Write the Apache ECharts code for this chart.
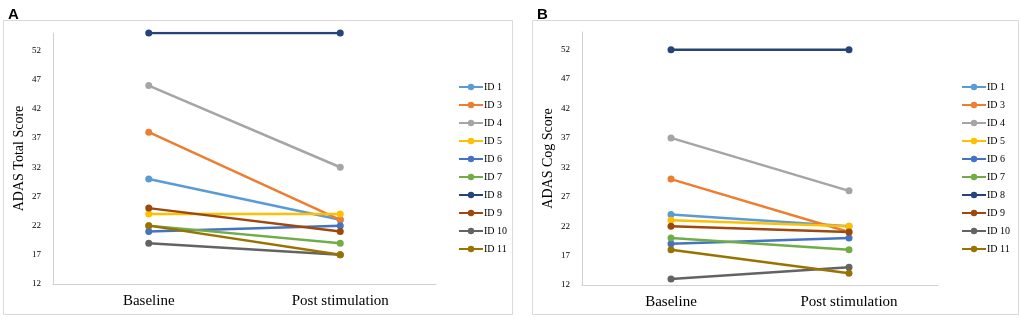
<!DOCTYPE html>
<html>
<head>
<meta charset="utf-8">
<script src="https://cdn.jsdelivr.net/npm/echarts@6/dist/echarts.min.js"></script>
<style>
  html, body { margin: 0; padding: 0; background: #fff; }
  #chart { width: 1020px; height: 319px; }
</style>
</head>
<body>
<div id="chart"></div>
<script>
// Categories and participants
const timepoints = ["Baseline", "Post stimulation"];
const ids = ["ID 1", "ID 3", "ID 4", "ID 5", "ID 6", "ID 7", "ID 8", "ID 9", "ID 10", "ID 11"];
const colors = ["#5B9BD5", "#ED7D31", "#A5A5A5", "#FFC000", "#4472C4", "#70AD47", "#264478", "#9E480E", "#636363", "#997300"];

// Panel A: ADAS Total Score [baseline, post]
const totalScore = [
  [30, 23], [38, 23], [46, 32], [24, 24], [21, 22],
  [22, 19], [55, 55], [25, 21], [19, 17], [22, 17]
];

// Panel B: ADAS Cog Score [baseline, post]
const cogScore = [
  [24, 22], [30, 21], [37, 28], [23, 22], [19, 20],
  [20, 18], [52, 52], [22, 21], [13, 15], [18, 14]
];

const yTicks = { min: 12, max: 55, interval: 5 };

const chart = echarts.init(document.getElementById("chart"));

const serif = "'Liberation Serif', 'DejaVu Serif', serif";
const sans = "'Liberation Sans', Arial, sans-serif";

function makeX(gridIndex) {
  return {
    type: "category",
    gridIndex: gridIndex,
    data: timepoints,
    boundaryGap: true,
    axisLine: { lineStyle: { color: "#d0d0d0", width: 1 } },
    axisTick: { show: false },
    axisLabel: { color: "#000", fontFamily: serif, fontSize: 15, margin: 10 },
  };
}

function makeY(gridIndex, name) {
  return {
    type: "value",
    gridIndex: gridIndex,
    min: yTicks.min,
    max: yTicks.max,
    interval: yTicks.interval,
    name: name,
    nameLocation: "middle",
    nameGap: 27,
    nameTextStyle: { color: "#000", fontFamily: serif, fontSize: 14 },
    axisLine: { show: true, lineStyle: { color: "#d0d0d0", width: 1 } },
    axisTick: { show: false },
    splitLine: { show: false },
    axisLabel: { color: "#000", fontFamily: serif, fontSize: 9, margin: 12, showMaxLabel: false },
  };
}

function makeSeries(data, idx) {
  return data.map((vals, i) => ({
    name: ids[i],
    type: "line",
    xAxisIndex: idx,
    yAxisIndex: idx,
    data: vals,
    symbol: "circle",
    symbolSize: 7,
    lineStyle: { color: colors[i], width: 2.5 },
    itemStyle: { color: colors[i] },
    emphasis: { disabled: true },
  }));
}

function makeLegend(left) {
  return {
    orient: "vertical",
    left: left,
    top: 77,
    data: ids,
    itemWidth: 24,
    itemHeight: 8,
    itemGap: 8,
    textStyle: { color: "#000", fontFamily: serif, fontSize: 10, padding: [0, 0, 0, -4] },
  };
}

const option = {
  animation: false,
  color: colors,
  title: [
    { text: "A", left: 3, top: 2, textStyle: { fontFamily: sans, fontWeight: "bold", fontSize: 15, color: "#000" } },
    { text: "B", left: 532, top: 2, textStyle: { fontFamily: sans, fontWeight: "bold", fontSize: 15, color: "#000" } },
  ],
  graphic: [
    { type: "rect", shape: { x: 3.5, y: 20.5, width: 509, height: 294 }, style: { fill: "none", stroke: "#d9d9d9", lineWidth: 1 }, silent: true },
    { type: "rect", shape: { x: 532.5, y: 20.5, width: 486, height: 294 }, style: { fill: "none", stroke: "#d9d9d9", lineWidth: 1 }, silent: true },
  ],
  legend: [makeLegend(453), makeLegend(956)],
  grid: [
    { left: 53, top: 33, width: 383, height: 251 },
    { left: 582, top: 32, width: 356, height: 253 },
  ],
  xAxis: [makeX(0), makeX(1)],
  yAxis: [makeY(0, "ADAS Total Score"), makeY(1, "ADAS Cog Score")],
  series: [...makeSeries(totalScore, 0), ...makeSeries(cogScore, 1)],
};

chart.setOption(option);
</script>
</body>
</html>
